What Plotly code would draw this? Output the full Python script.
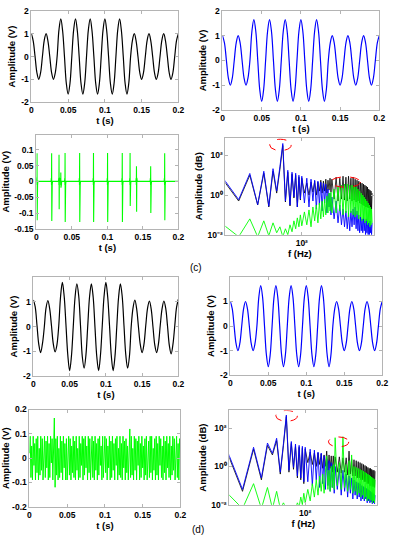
import plotly.graph_objects as go

W, H = 399, 550
FONT = "Liberation Sans"

# ---------------- time-domain data ----------------
t_wave = [round(0.0025 * i, 4) for i in range(81)]

blue_wave = [1, 0.71, 0, -0.71, -1, -0.71, 0, 0.71,
             1, 0.71, 0, -0.71, -1, -0.71,
             0, 1.17,
             1.65, 1.17, 0, -1.17, -1.65, -1.17, 0, 1.17,
             1.65, 1.17, 0, -1.17, -1.65, -1.17, 0, 1.17,
             1.65, 1.17, 0, -1.17, -1.65, -1.17, 0, 1.17,
             1.65, 1.17, 0, -1.17, -1.65, -1.17, 0, 1.17,
             1.65, 1.17, 0, -1.17, -1.65, -1.17,
             0, 0.71,
             1, 0.71, 0, -0.71, -1, -0.71, 0, 0.71,
             1, 0.71, 0, -0.71, -1, -0.71, 0, 0.71,
             1, 0.71, 0, -0.71, -1, -0.71, 0, 0.71,
             1]

black_wave_c = [1, 0.68, 0, -0.71, -1, -0.71, 0, 0.71,
                1, 0.68, 0, -0.71, -1, -0.71,
                0, 1.17,
                1.65, 1.12, 0, -1.17, -1.65, -1.17, 0, 1.17,
                1.65, 1.12, 0, -1.17, -1.65, -1.17, 0, 1.17,
                1.65, 1.12, 0, -1.17, -1.65, -1.17, 0, 1.17,
                1.65, 1.12, 0, -1.17, -1.65, -1.17, 0, 1.17,
                1.65, 1.12, 0, -1.17, -1.65, -1.17,
                0, 0.71,
                1, 0.68, 0, -0.71, -1, -0.71, 0, 0.71,
                1, 0.68, 0, -0.71, -1, -0.71, 0, 0.71,
                1, 0.68, 0, -0.71, -1, -0.71, 0, 0.71,
                1]

black_wave_d = [1.07, 0.80, 0.05, -0.72, -1.05, -0.70, -0.05, 0.75,
                1.05, 0.72, 0.03, -0.70, -1.02, -0.74, 0.02, 1.20,
                1.78, 1.22, 0.05, -1.15, -1.78, -1.20, -0.02, 1.18,
                1.72, 1.25, 0.04, -1.22, -1.68, -1.15, 0.03, 1.20,
                1.72, 1.18, -0.04, -1.22, -1.78, -1.17, 0.02, 1.22,
                1.78, 1.20, 0.05, -1.18, -1.78, -1.22, -0.03, 1.17,
                1.72, 1.22, 0.02, -1.15, -1.68, -1.20, 0.03, 0.76,
                1.07, 0.70, -0.04, -0.73, -1.05, -0.72, 0.04, 0.74,
                1.03, 0.70, -0.03, -0.75, -1.05, -0.70, 0.05, 0.72,
                1.03, 0.74, 0.02, -0.76, -1.10, -0.72, 0.03, 0.78,
                1.10]

# green fault component (c): isolated spikes
spike_t = [0.001, 0.0216, 0.032, 0.0345, 0.0405, 0.061, 0.0805, 0.1003,
           0.121, 0.132, 0.141, 0.161, 0.1807]
spike_hi = [0.089, 0.089, 0.084, 0.028, 0.09, 0.09, 0.09, 0.09,
            0.09, 0.09, 0.048, 0.048, 0.089]
spike_lo = [-0.123, -0.125, -0.088, -0.02, -0.128, -0.128, -0.128, -0.128,
            -0.128, -0.078, -0.096, -0.1, -0.123]
spike_ring = 0.011

# green noise component (d)
t_noise = [round(0.001 * i, 3) for i in range(201)]
green_noise_d = [
    0.02, 0.09, -0.08, 0.05, -0.09, 0.09, -0.03, 0.06, -0.09, 0.08, -0.06, 0.09, -0.09, 0.04, -0.07, 0.09, -0.05, 0.08, -0.09, 0.03,
    0.09, -0.08, 0.07, -0.04, 0.09, -0.09, 0.06, -0.08, 0.09, -0.02, 0.08, -0.09, 0.05, 0.165, -0.12, 0.08, -0.07, 0.09, -0.09, 0.04,
    -0.08, 0.09, -0.06, 0.07, -0.09, 0.09, -0.04, 0.06, -0.09, 0.08, -0.09, 0.03, 0.09, -0.07, 0.08, -0.09, 0.05, -0.06, 0.09, -0.08,
    0.07, -0.09, 0.09, -0.05, 0.04, -0.09, 0.09, -0.08, 0.06, -0.03, 0.09, -0.09, 0.08, -0.07, 0.09, -0.04, 0.05, -0.09, 0.09, -0.06,
    0.08, -0.09, 0.03, 0.09, -0.08, 0.07, -0.09, 0.09, -0.05, 0.06, -0.09, 0.08, -0.07, 0.09, -0.03, 0.05, -0.09, 0.09, -0.08, 0.04,
    0.09, -0.06, 0.08, -0.09, 0.05, -0.04, 0.09, -0.09, 0.07, -0.08, 0.09, -0.05, 0.06, -0.09, 0.08, -0.03, 0.09, -0.09, 0.04, -0.07,
    0.09, -0.08, 0.06, -0.09, 0.09, -0.04, 0.07, -0.09, 0.08, -0.06, 0.05, -0.09, 0.09, 0.12, -0.08, 0.09, -0.07, 0.04, -0.09, 0.09,
    -0.05, 0.08, -0.09, 0.07, -0.03, 0.09, -0.09, 0.06, -0.08, 0.09, -0.04, 0.05, -0.09, 0.08, -0.07, 0.09, -0.09, 0.03, 0.07, -0.08,
    0.09, -0.06, 0.09, -0.09, 0.04, -0.05, 0.08, -0.09, 0.09, -0.07, 0.06, -0.09, 0.09, -0.03, 0.08, -0.08, 0.05, -0.09, 0.09, -0.06,
    0.07, -0.09, 0.09, -0.04, 0.06, -0.08, 0.09, -0.09, 0.05, -0.07, 0.09, -0.05, 0.08, -0.09, 0.04, 0.09, -0.08, 0.06, -0.09, 0.08, 0.07]

# ---------------- spectra (log10 of amplitude) ----------------
freq = list(range(5, 101, 5)) + list(range(110, 301, 10)) + list(range(325, 1301, 25))

blue_c_log = [1.09, -0.23, 1.09, -0.48, 1.2, -0.56, 1.33, 0.2, 1.43, 2.6,
              -0.3, 1.25, -0.5, 1.15, -0.1, 1.1, -0.6, 1.0, -0.2, 0.95,
              -0.4, 0.85, -0.6, 0.8, -0.3, 0.75, -0.7, 0.7, -0.5, 0.65,
              -0.8, 0.6, -0.4, 0.55, -0.9, 0.3, -0.6, 0.1, -1.0, -0.1,
              -1.2, -0.3, -1.4, -0.5, -1.5, -0.7, -1.6, -0.8, -1.7, -0.9,
              -1.8, -0.8, -1.6, -0.7, -1.5, -0.6, -1.7, -0.8, -1.8, -1.0,
              -1.9, -1.1, -1.8, -1.2, -1.9, -1.1, -1.8, -1.3, -2.0, -1.2,
              -1.9, -1.3, -2.0, -1.4, -2.0, -1.3, -1.9, -1.5, -2.0, -1.4]
black_c_log = [1.0, -0.3, 1.0, -0.5, 1.1, -0.6, 1.2, 0.1, 1.3, 2.5,
               -0.35, 1.15, -0.55, 1.05, -0.15, 1.0, -0.6, 0.9, -0.25, 0.85,
               0.1, 0.6, 0.0, 0.65, 0.15, 0.7, 0.0, 0.65, 0.2, 0.75,
               0.1, 0.7, 0.2, 0.8, 0.1, 0.75, 0.25, 0.85, 0.15, 0.8,
               -0.2, 0.9, -0.3, 0.85, -0.2, 0.95, -0.25, 0.9, -0.3, 0.95,
               -0.2, 0.85, -0.3, 0.9, -0.25, 0.8, -0.35, 0.75, -0.3, 0.7,
               -0.4, 0.65, -0.45, 0.6, -0.5, 0.55, -0.55, 0.5, -0.6, 0.45,
               -0.6, 0.4, -0.65, 0.3, -0.65, 0.25, -0.7, 0.2, -0.7, 0.1]
green_c_log = [-1.35, -2.1, -1.2, -2.1, -1.3, -2.05, -1.4, -1.9, -1.6, -2.1,
               -1.7, -2.0, -1.5, -1.85, -1.3, -1.7, -1.15, -1.6, -1.0, -1.55,
               -0.85, -1.5, -0.75, -1.6, -0.6, -1.3, -0.5, -1.4, -0.4, -1.2,
               -0.3, -1.1, -0.2, -1.0, -0.05, -0.9, 0.1, -0.8, 0.15, -0.9,
               0.3, -0.9, 0.45, -0.8, 0.5, -1.0, 0.55, -0.9, 0.55, -1.1,
               0.5, -0.9, 0.5, -1.0, 0.45, -1.1, 0.4, -1.0, 0.3, -1.2,
               0.2, -1.1, 0.1, -1.3, 0.0, -1.2, -0.1, -1.4, -0.2, -1.3,
               -0.3, -1.5, -0.4, -1.4, -0.5, -1.6, -0.6, -1.5, -0.7, -1.4]

blue_d_log = [1.3, -1.2, 1.0, -0.6, 1.22, 0.68, 1.47, -0.3, 1.2, 2.68,
              -0.2, 1.3, -0.05, 1.17, -0.5, 1.1, -0.6, 1.05, -0.8, 1.0,
              -0.8, 0.9, -1.0, 0.85, -0.7, 0.75, -1.1, 0.7, -0.9, 0.55,
              -1.2, 0.4, -1.0, 0.3, -1.3, 0.2, -1.1, 0.1, -1.4, 0.0,
              -1.2, -0.1, -1.5, -0.2, -1.3, -0.4, -1.6, -0.5, -1.4, -0.6,
              -1.7, -0.7, -1.5, -0.8, -1.7, -0.85, -1.6, -0.9, -1.8, -1.0,
              -1.7, -1.05, -1.8, -1.1, -1.7, -1.15, -1.9, -1.2, -1.8, -1.25,
              -1.9, -1.3, -1.85, -1.35, -1.95, -1.4, -1.9, -1.45, -1.95, -1.5]
black_d_log = [1.2, -1.3, 0.9, -0.7, 1.1, 0.6, 1.35, -0.4, 1.1, 2.6,
               -0.3, 1.2, -0.15, 1.05, -0.6, 1.0, -0.7, 0.95, -0.9, 0.9,
               0.2, 0.75, 0.1, 0.7, 0.0, 0.7, 0.1, 0.65, -0.1, 0.6,
               0.0, 0.8, -0.2, 0.6, -0.1, 0.55, -0.3, 0.55, -0.2, 0.5,
               -0.3, 0.5, -0.35, 0.45, -0.3, 0.45, -0.45, 0.8, -0.4, 0.4,
               -0.5, 0.35, -0.5, 0.3, -0.6, 0.25, -0.6, 0.2, -0.7, 0.15,
               -0.7, 0.1, -0.8, 0.05, -0.8, 0.0, -0.9, -0.05, -0.9, -0.1,
               -1.0, -0.1, -1.0, -0.15, -1.05, -0.2, -1.05, -0.2, -1.1, -0.25]
green_d_log = [-1.2, -2.2, -0.9, -2.2, -1.1, -2.2, -1.3, -2.2, -1.9, -2.2,
               -2.2, -2.2, -2.1, -2.2, -1.9, -2.1, -1.6, -2.0, -1.4, -1.9,
               -1.2, -1.8, -0.9, -1.6, -0.7, -1.5, -0.5, -1.3, -0.4, -1.4,
               -0.3, 0.55, -1.2, -0.2, -1.3, 0.0, -1.1, 0.1, -1.2, 1.5,
               -1.0, 0.2, -1.2, 1.55, -1.1, 0.1, -1.3, 0.3, -1.2, 0.6,
               -1.4, 0.0, -1.3, -0.05, -1.5, -0.1, -1.4, -0.15, -1.6, -0.2,
               -1.5, -0.25, -1.7, -0.3, -1.6, -0.35, -1.8, -0.4, -1.7, -0.45,
               -1.8, -0.5, -1.75, -0.55, -1.9, -0.6, -1.8, -0.65, -1.9, -0.7]

# highlighted regions (Hz range, amplitude range)
ellipses_c = [((31, 68), (175, 650)), ((287, 845), (2.5, 8.3))]
ellipses_d = [((34, 75), (229, 835)), ((235, 495), (10.6, 34.6))]

# ---------------- layout (pixel boxes) ----------------
boxes = {
    1: (30, 180, 6, 99),
    2: (225, 385, 6, 107),
    3: (35, 180, 132, 228),
    4: (228, 380, 135, 234),
    5: (32, 180, 277, 378),
    6: (233, 388, 277, 377),
    7: (28, 182, 412, 511),
    8: (232, 383, 413, 509),
}

BLACK, BLUE, GREEN = "#000000", "#0000ff", "#00ff00"


def pw(v):
    return [10 ** x for x in v]


fig = go.Figure()


def add(n, x, y, color, width=1.0, shape="linear"):
    ax = "" if n == 1 else str(n)
    line = dict(color=color, width=width, shape=shape)
    if shape == "spline":
        line["smoothing"] = 1.0
    fig.add_trace(go.Scatter(x=x, y=y, mode="lines", line=line,
                             xaxis="x" + ax, yaxis="y" + ax, showlegend=False,
                             hoverinfo="skip"))


add(1, t_wave, black_wave_c, BLACK, 1.2, "spline")
add(2, t_wave, blue_wave, BLUE, 1.2, "spline")

gx, gy = [0.0], [0.0]
for t, hi, lo in zip(spike_t, spike_hi, spike_lo):
    gx += [t - 0.0008, t - 0.0004, t - 0.0002, t, t + 0.0002, t + 0.0005, t + 0.0008, t + 0.0012]
    gy += [0, spike_ring, -spike_ring, hi, lo, spike_ring, -spike_ring, 0]
gx.append(0.2)
gy.append(0.0)
add(3, gx, gy, GREEN, 1.1)

add(4, freq, pw(black_c_log), BLACK, 0.8)
add(4, freq, pw(blue_c_log), BLUE, 0.9)
add(4, freq, pw(green_c_log), GREEN, 0.9)

add(5, t_wave, black_wave_d, BLACK, 1.2, "spline")
add(6, t_wave, blue_wave, BLUE, 1.2, "spline")
add(7, t_noise, green_noise_d, GREEN, 1.0)

add(8, freq, pw(black_d_log), BLACK, 0.8)
add(8, freq, pw(blue_d_log), BLUE, 0.9)
add(8, freq, pw(green_d_log), GREEN, 0.9)

tickfont = dict(family=FONT, size=8.5, color="black", weight="bold")
titlefont = dict(family=FONT, size=9.5, color="black", weight="bold")
GREY = "#b4b4b4"


def base_axis():
    return dict(showline=True, linecolor=GREY, linewidth=1, mirror="ticks",
                ticks="inside", ticklen=3, tickcolor=GREY, tickwidth=1,
                showgrid=False, zeroline=False, tickfont=tickfont)


t_ticks = [0, 0.05, 0.1, 0.15, 0.2]
t_text = ["0", "0.05", "0.1", "0.15", "0.2"]
log_text = ["10\u207b\u00b2", "10\u2070", "10\u00b2"]

layout = dict(width=W, height=H, margin=dict(l=0, r=0, t=0, b=0),
              paper_bgcolor="white", plot_bgcolor="white",
              font=dict(family=FONT, color="black"))

yspec = {
    1: dict(range=[-2, 2], tickvals=[-2, -1, 0, 1, 2], ticktext=["-2", "-1", "0", "1", "2"], title="Amplitude (V)"),
    2: dict(range=[-2, 2], tickvals=[-2, -1, 0, 1, 2], ticktext=["-2", "-1", "0", "1", "2"], title="Amplitude (V)"),
    3: dict(range=[-0.15, 0.148], tickvals=[-0.15, -0.1, -0.05, 0, 0.05, 0.1],
            ticktext=["-0.15", "-0.1", "-0.05", "0", "0.05", "0.1"], title="Amplitude (V)"),
    4: dict(type="log", range=[-2, 2.9], tickvals=[0.01, 1, 100],
            ticktext=log_text, title="Amplitude (dB)"),
    5: dict(range=[-2, 2], tickvals=[-2, -1, 0, 1], ticktext=["-2", "-1", "0", "1"], title="Amplitude (V)"),
    6: dict(range=[-2, 2], tickvals=[-2, -1, 0, 1], ticktext=["-2", "-1", "0", "1"], title="Amplitude (V)"),
    7: dict(range=[-0.2, 0.2], tickvals=[-0.2, -0.1, 0, 0.1, 0.2],
            ticktext=["-0.2", "-0.1", "0", "0.1", "0.2"], title="Amplitude (V)"),
    8: dict(type="log", range=[-2, 2.92], tickvals=[0.01, 1, 100],
            ticktext=log_text, title="Amplitude (dB)"),
}

for n, (x0, x1, y0, y1) in boxes.items():
    ax = "" if n == 1 else str(n)
    xa = base_axis()
    xa["domain"] = [x0 / W, x1 / W]
    xa["anchor"] = "y" + ax
    if n in (4, 8):
        xa.update(type="log", range=[0.79, 3.15], tickvals=[100], ticktext=["10\u00b2"],
                  title=dict(text="f (Hz)", font=titlefont, standoff=2))
    else:
        xa.update(range=[0, 0.2], tickvals=t_ticks, ticktext=t_text,
                  title=dict(text="t (s)", font=titlefont, standoff=2))
    ya = base_axis()
    spec = dict(yspec[n])
    title = spec.pop("title")
    ya.update(spec)
    ya["domain"] = [1 - y1 / H, 1 - y0 / H]
    ya["anchor"] = "x" + ax
    ya["title"] = dict(text=title, font=titlefont, standoff=3)
    layout["xaxis" + ax] = xa
    layout["yaxis" + ax] = ya

shapes = []
for n, ells in ((4, ellipses_c), (8, ellipses_d)):
    for (fx0, fx1), (ay0, ay1) in ells:
        shapes.append(dict(type="circle", xref="x%d" % n, yref="y%d" % n,
                           x0=fx0, x1=fx1, y0=ay0, y1=ay1,
                           line=dict(color="#ff0000", width=1, dash="dash")))
layout["shapes"] = shapes

layout["annotations"] = [
    dict(text="(c)", x=198 / W, y=1 - 267 / H, xref="paper", yref="paper",
         showarrow=False, font=dict(family=FONT, size=10, color="black")),
    dict(text="(d)", x=200 / W, y=1 - 542 / H, xref="paper", yref="paper",
         showarrow=False, font=dict(family=FONT, size=10, color="black")),
]

fig.update_layout(**layout)
fig.write_html("out.html", config={"displayModeBar": False},
               post_script="document.body.style.margin='0';document.body.style.padding='0';")
